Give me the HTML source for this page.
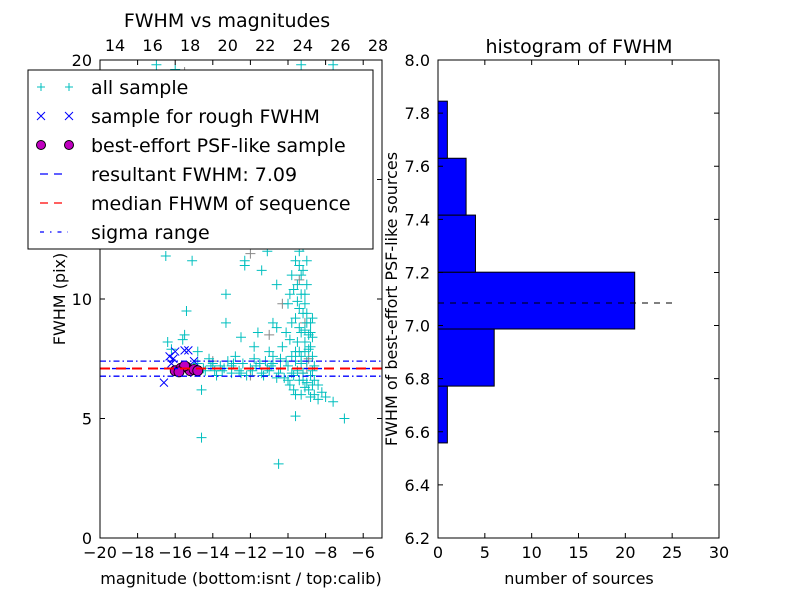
<!DOCTYPE html>
<html><head><meta charset="utf-8"><style>body{margin:0;background:#fff}svg{display:block;font-family:"DejaVu Sans","Liberation Sans",sans-serif}</style></head>
<body>
<svg id="c" width="800" height="600" viewBox="0 0 800 600"></svg>
<script>
const allSample=[[-15,7.2],[-14.5,7.1],[-14,7.3],[-13.5,7.0],[-13,7.2],[-12.5,6.9],[-12,7.1],[-11.5,7.3],[-11,7.0],[-10.5,6.9],[-10,7.2],[-14.2,7.5],[-13.8,6.8],[-13.2,7.4],[-12.8,7.6],[-12.2,6.8],[-11.8,7.5],[-11.2,7.4],[-10.8,7.6],[-10.2,6.7],[-9.8,6.9],[-9.5,7.0],[-14.8,7.8],[-13.9,7.0],[-12.9,7.3],[-11.9,7.0],[-10.9,7.2],[-15.5,8.5],[-15.6,8.3],[-15.4,9.5],[-16.5,11.8],[-15.1,11.6],[-13.3,10.2],[-13.3,9.0],[-12.3,11.6],[-12.3,11.4],[-11.4,11.2],[-11.8,8.0],[-11,7.8],[-12.5,8.4],[-11.6,8.6],[-10.8,9.0],[-10.6,8.8],[-10,9.8],[-9.4,12.0],[-9.6,11.6],[-9.8,11.0],[-9.5,10.6],[-9.2,11.2],[-9.3,10.2],[-9.1,9.8],[-9.2,9.4],[-9,9.0],[-9.4,8.8],[-8.9,8.5],[-8.8,8.0],[-8.7,7.6],[-8.6,7.2],[-8.8,6.8],[-9,6.5],[-8.9,6.2],[-8.6,6.0],[-8.4,5.8],[-8,5.9],[-7.6,5.7],[-7,5.0],[-9.6,5.1],[-10.5,3.1],[-14.6,4.2],[-14.6,6.2],[-9.9,6.4],[-9.7,6.2],[-9.5,8.2],[-10.3,8.0],[-9.9,14.5],[-9.7,13.5],[-9.5,13.0],[-9.8,15.5],[-9.6,16.5],[-9.3,19.8],[-16,19.6],[-17,19.8],[-7.6,19.8],[-10,12.5],[-9.8,12.8],[-9.2,12.2],[-9.4,13.8],[-10.2,13.2],[-8.7,8.4],[-8.7,9.2],[-9.1,7.8],[-9.3,7.3],[-9.7,6.8],[-10.6,10.6],[-11.1,12.0],[-10.4,13.8],[-10.7,14.8],[-10,16.5],[-9.7,17.5],[-11.5,12.5],[-12.5,14.0],[-13.5,14.5],[-11.8,15.0],[-16.4,8.2],[-16.2,7.9],[-14.4,7.0],[-13.6,7.2],[-12.6,7.0],[-11.4,6.9],[-10.4,7.1],[-9.6,7.4],[-9.2,6.6],[-8.8,5.9],
[-9.4,11.4],[-9.3,11.0],[-9.0,10.6],[-9.1,10.2],[-9.4,9.6],[-9.0,9.4],[-8.8,9.0],[-9.3,8.6],[-9.1,8.2],[-8.9,7.9],[-9.4,7.8],[-9.0,7.4],[-8.7,7.0],[-9.2,6.9],[-9.4,6.6],[-8.7,6.4],[-9.1,6.3],[-8.6,6.6],[-9.6,9.2],[-9.8,9.0],[-9.5,9.9],[-9.7,10.4],[-9.9,10.2],[-9.0,11.6],[-9.2,12.6],[-9.5,12.4],[-9.1,8.7],[-8.8,8.6],[-9.3,7.6],[-9.6,7.8],[-10.1,7.4],[-10.4,7.5],[-10.8,7.3],[-11.1,7.1],[-11.7,7.2],[-12.4,7.3],[-13.0,6.9],[-13.4,7.1],[-14.1,7.2],[-14.8,7.3],[-10.0,6.6],[-10.6,6.7],[-11.3,6.8],[-9.8,7.6],[-9.9,8.3],[-10.1,8.6],[-8.4,6.4],[-8.2,6.1],[-9.6,6.0],[-9.3,6.0]];
const graySample=[[-15.5,19.5],[-14,18.5],[-12,17],[-16.5,15.5],[-14.5,13.8],[-12,11.9],[-10.3,9.8],[-11,8.5],[-14,7.4],[-12,6.8],[-9,7.1],[-9.2,6.9],[-9.4,10.8],[-9.1,9.0],[-8.9,7.5]];
const roughSample=[[-16.3,7.6],[-16,7.8],[-15.5,7.85],[-15.3,7.85],[-16.6,6.5],[-16.2,7.3],[-15,7.4],[-16.1,7.5]];
const bestSample=[[-16,7.0],[-15.7,7.1],[-15.4,7.15],[-15.2,7.0],[-15,7.05],[-14.8,7.0],[-15.5,7.2],[-15.8,6.95]];
const resultFWHM=7.09, medianFWHM=7.09, sigmaLo=6.77, sigmaHi=7.4;
const binEdges=[6.558,6.772,6.987,7.201,7.416,7.630,7.845];
const binCounts=[1,6,21,4,3,1];
const histLine=[7.085,25.5];
const xTicksL=[-20,-18,-16,-14,-12,-10,-8,-6], yTicksL=[0,5,10,15,20];
const topTicks=[14,16,18,20,22,24,26,28];
const xTicksR=[0,5,10,15,20,25,30], yTicksR=[6.2,6.4,6.6,6.8,7.0,7.2,7.4,7.6,7.8,8.0];

const S=document.getElementById('c'),NS='http://www.w3.org/2000/svg';
function el(t,a,p){const e=document.createElementNS(NS,t);for(const k in a)e.setAttribute(k,a[k]);(p||S).appendChild(e);return e;}
function txt(x,y,s,a,sz,nm,extra){const e=el('text',Object.assign({x:x,y:y,'font-size':sz||16,'text-anchor':a||'middle'},extra||{}));e.textContent=s;

return e;}
const L={x0:100,x1:382,y0:538,y1:60};
const lx=v=>L.x0+(v+20)/15*(L.x1-L.x0), ly=v=>L.y0-v/20*(L.y0-L.y1);
const tx=v=>115+(v-14)*(378-115)/14;
const R={x0:438,x1:719,y0:538,y1:60};
const rx=v=>R.x0+v/30*(R.x1-R.x0), ry=v=>R.y0-(v-6.2)/1.8*(R.y0-R.y1);

const gL=el('g',{});
const clip=el('clipPath',{id:'cl'});el('rect',{x:L.x0,y:L.y1,width:L.x1-L.x0,height:L.y0-L.y1},clip);
const pts=el('g',{'clip-path':'url(#cl)'},gL);
function plus(x,y,c,g){const p=el('path',{d:`M${x-5} ${y}h10M${x} ${y-5}v10`,stroke:c,'stroke-width':1,fill:'none'},g);}
graySample.forEach(d=>plus(lx(d[0]),ly(d[1]),'#888',pts));
allSample.forEach(d=>plus(lx(d[0]),ly(d[1]),'#00bfbf',pts));
roughSample.forEach(d=>{const x=lx(d[0]),y=ly(d[1]);const p=el('path',{d:`M${x-4} ${y-4}l8 8M${x-4} ${y+4}l8 -8`,stroke:'#0000ff','stroke-width':1},pts);});
bestSample.forEach(d=>{const c=el('circle',{cx:lx(d[0]),cy:ly(d[1]),r:5,fill:'#bf00bf',stroke:'#000','stroke-width':0.8},pts);});
function hl(v,c,da,nm){const l=el('line',{x1:L.x0,x2:L.x1,y1:ly(v),y2:ly(v),stroke:c,'stroke-width':nm=='median-line'?2:1.3,'stroke-dasharray':da},gL);}
hl(resultFWHM,'#0000ff','6 6','result-line');hl(medianFWHM,'#ff0000','10 6','median-line');
hl(sigmaLo,'#0000ff','6 3 1.5 3','sigma-low');hl(sigmaHi,'#0000ff','6 3 1.5 3','sigma-high');
el('rect',{x:L.x0,y:L.y1,width:L.x1-L.x0,height:L.y0-L.y1,fill:'none',stroke:'#000'},gL);
xTicksL.forEach(v=>{const x=lx(v);el('path',{d:`M${x} ${L.y0}v-5M${x} ${L.y1}v5`,stroke:'#000'},gL);txt(x,L.y0+20,(v<0?'\u2212':'')+Math.abs(v),'middle',16,'x-tick-label');});
yTicksL.forEach(v=>{const y=ly(v);el('path',{d:`M${L.x0} ${y}h5M${L.x1} ${y}h-5`,stroke:'#000'},gL);txt(L.x0-8,y+6,String(v),'end',16,'y-tick-label');});
topTicks.forEach(v=>{const x=tx(v);txt(x,L.y1-9,String(v),'middle',16,'top-tick-label');});
txt(227,27,'FWHM vs magnitudes','middle',19,'left-title');
txt(241,584,'magnitude (bottom:isnt / top:calib)','middle',16,'x-axis-title');
txt(65,299,'FWHM (pix)','middle',16,'y-axis-title',{transform:'rotate(-90 65 299)'});

const lg=el('g',{});
el('rect',{x:28,y:70,width:345,height:179,fill:'#fff',stroke:'#000'},lg);
const labs=['all sample','sample for rough FWHM','best-effort PSF-like sample','resultant FWHM: 7.09','median FHWM of sequence','sigma range'];
labs.forEach((s,i)=>{const y=87+i*29;
 if(i==0)[41,69].forEach(x=>el('path',{d:`M${x-4} ${y}h8M${x} ${y-4}v8`,stroke:'#00bfbf'},lg));
 if(i==1)[41,69].forEach(x=>el('path',{d:`M${x-4} ${y-4}l8 8M${x-4} ${y+4}l8 -8`,stroke:'#0000ff'},lg));
 if(i==2)[41,69].forEach(x=>el('circle',{cx:x,cy:y,r:4.5,fill:'#bf00bf',stroke:'#000'},lg));
 if(i==3)el('line',{x1:40,x2:68,y1:y,y2:y,stroke:'#0000ff','stroke-dasharray':'8 6','stroke-width':1.3},lg);
 if(i==4)el('line',{x1:40,x2:68,y1:y,y2:y,stroke:'#ff0000','stroke-dasharray':'8 6','stroke-width':1.3},lg);
 if(i==5)el('line',{x1:40,x2:68,y1:y,y2:y,stroke:'#0000ff','stroke-dasharray':'4 6 1.5 6','stroke-width':1.3},lg);
 const t=txt(91,y+7,s,'start',19,'legend-entry');lg.appendChild(t);});

const gR=el('g',{});
binCounts.forEach((c,i)=>{const b=el('rect',{x:rx(0),y:ry(binEdges[i+1]),width:rx(c)-rx(0),height:ry(binEdges[i])-ry(binEdges[i+1]),fill:'#0000ff',stroke:'#000'},gR);});
const hlr=el('line',{x1:rx(0),x2:rx(histLine[1]),y1:ry(histLine[0]),y2:ry(histLine[0]),stroke:'#000','stroke-dasharray':'6 6'},gR);
el('rect',{x:R.x0,y:R.y1,width:R.x1-R.x0,height:R.y0-R.y1,fill:'none',stroke:'#000'},gR);
xTicksR.forEach(v=>{const x=rx(v);el('path',{d:`M${x} ${R.y0}v-5M${x} ${R.y1}v5`,stroke:'#000'},gR);txt(x,R.y0+20,String(v),'middle',16,'x-tick-label');});
yTicksR.forEach(v=>{const y=ry(v);el('path',{d:`M${R.x0} ${y}h5M${R.x1} ${y}h-5`,stroke:'#000'},gR);txt(R.x0-8,y+6,v.toFixed(1),'end',16,'y-tick-label');});
txt(579,53,'histogram of FWHM','middle',19,'right-title');
txt(579,584,'number of sources','middle',16,'x-axis-title-right');
txt(397,299,'FWHM of best-effort PSF-like sources','middle',16,'y-axis-title-right',{transform:'rotate(-90 397 299)'});
</script>
</body></html>
